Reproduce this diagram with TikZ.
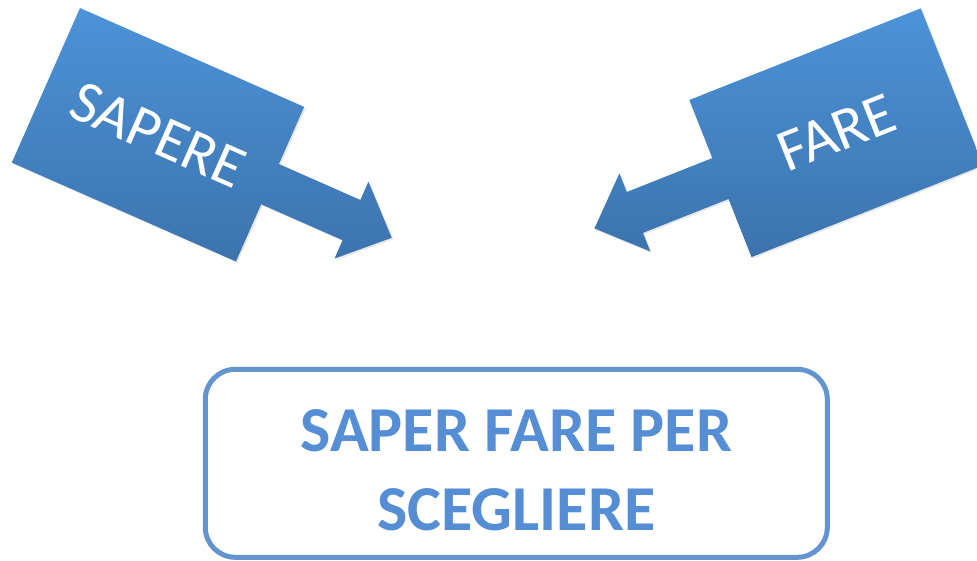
\documentclass[tikz,border=0pt]{standalone}
\usepackage{fontspec}
\setmainfont{Carlito}
\usetikzlibrary{shadows}

\definecolor{boxblue}{RGB}{98,149,207}
\definecolor{textblue}{RGB}{85,142,213}
\definecolor{arrowtop}{RGB}{76,147,216}
\definecolor{arrowbot}{RGB}{60,115,174}

\begin{document}
\begin{tikzpicture}[x=1pt,y=1pt,inner sep=0pt]
  % Styles
  \tikzset{callout/.style={top color=arrowtop,bottom color=arrowbot,draw=none,
             drop shadow={opacity=0.18,shadow xshift=1.5pt,shadow yshift=-1.5pt}},
           calloutlabel/.style={text=white,font=\fontsize{60}{62}\selectfont},
           goalbox/.style={draw=boxblue,line width=5pt,rounded corners=30pt,
             minimum width=622pt,minimum height=188pt},
           goallabel/.style={text=textblue,font=\bfseries\fontsize{64}{78}\selectfont,anchor=base}}

  \useasboundingbox (0,0) rectangle (977,-561);

  % Left callout (SAPERE), arrow pointing down-right
  \begin{scope}[shift={(80,-8)},rotate=-23.8]
    \path[callout] (0,0) -- (245,0) -- (245,-62.5) -- (334,-62.5) -- (334,-42.5)
      -- (378,-84.5) -- (334,-126.5) -- (334,-106.5) -- (245,-106.5)
      -- (245,-169) -- (0,-169) -- cycle;
    \node[calloutlabel,rotate=-23.8] (sapere) at (122.5,-84.5) {SAPERE};
  \end{scope}

  % Right callout (FARE), arrow pointing down-left
  \begin{scope}[shift={(689.3,-100)},rotate=21.6]
    \path[callout] (0,0) -- (249,0) -- (249,-169) -- (0,-169) -- (0,-106.5)
      -- (-92,-106.5) -- (-92,-126.5) -- (-135.5,-84.5) -- (-92,-42.5)
      -- (-92,-62.5) -- (0,-62.5) -- cycle;
    \node[calloutlabel,rotate=21.6] (fare) at (124.5,-84.5) {FARE};
  \end{scope}

  % Goal box at the bottom
  \node[goalbox] (goal) at (516.3,-463.3) {};
  \node[goallabel] (goalone) at (516.3,-451) {SAPER FARE PER};
  \node[goallabel] (goaltwo) at (516.3,-530) {SCEGLIERE};
\end{tikzpicture}
\end{document}
